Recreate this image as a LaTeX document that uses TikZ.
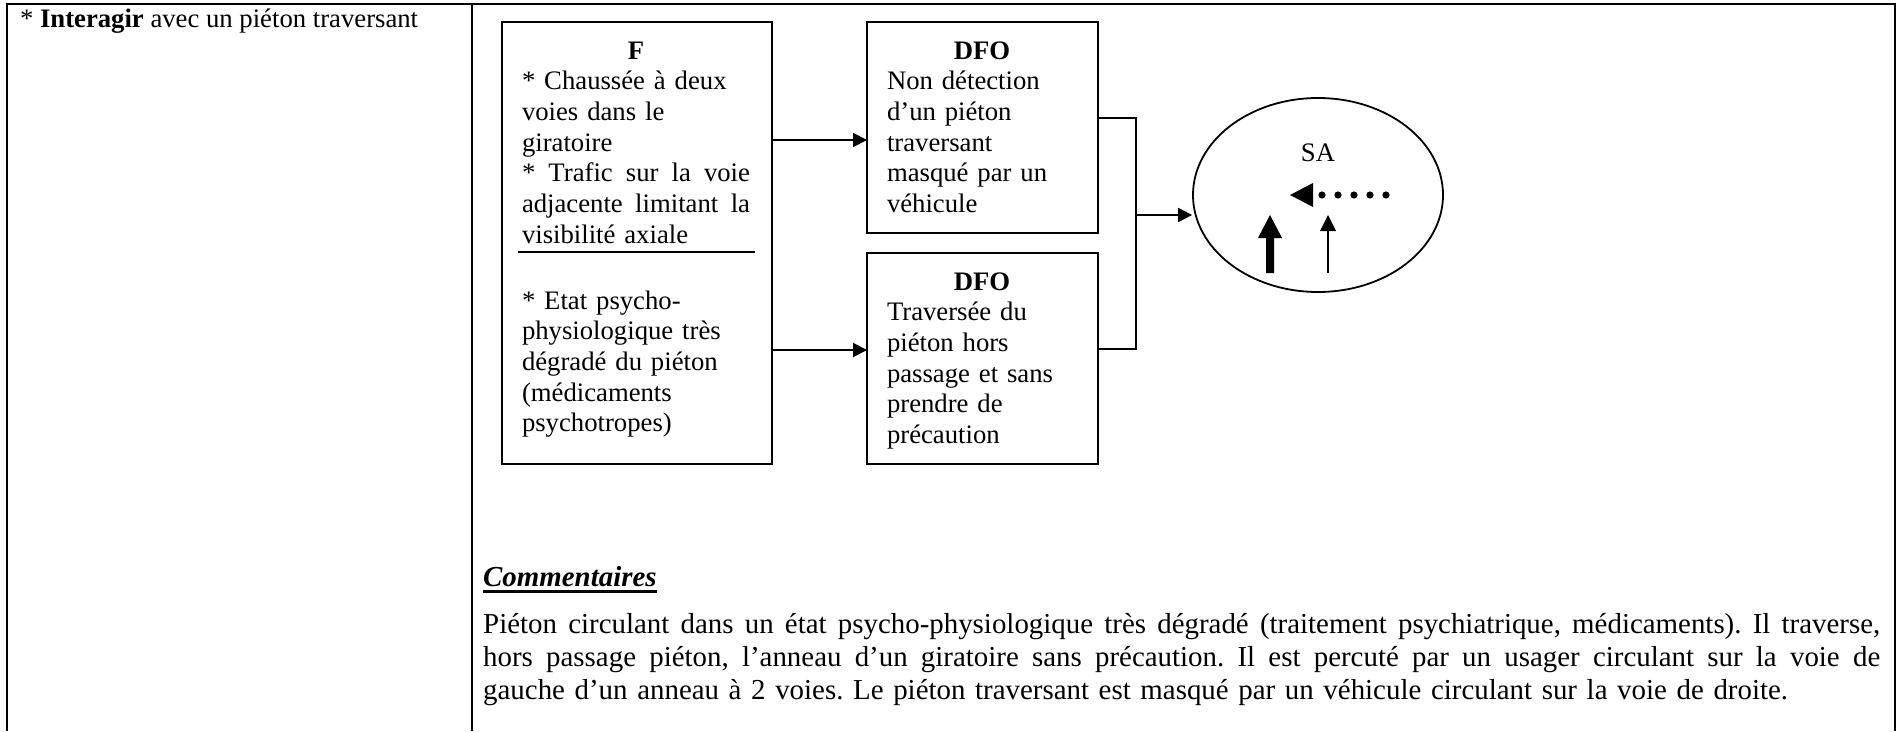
\documentclass[tikz,border=0pt]{standalone}
\usepackage{fontspec}
\setmainfont{Liberation Serif}
\usetikzlibrary{arrows.meta,shapes.geometric}
\newcommand\dgboxfont{\fontsize{26.7}{30.7}\selectfont}
\newcommand\dgheadfont{\fontsize{28.9}{33.3}\selectfont}
\newcommand\dgcomfont{\fontsize{28.9}{33.3}\selectfont}
% a line set flush to both margins
\newcommand\dgjust[2]{\makebox[#1][s]{\spaceskip=0.25em plus 1fil minus 0.05em\relax #2}}
\frenchspacing
\begin{document}
\begin{tikzpicture}[x=1pt,y=-1pt,
  tbl/.style={line width=2.6pt},
  box/.style={draw,line width=2.2pt,inner sep=0pt,outer sep=0pt,minimum width=#1},
  txt/.style={anchor=base west,inner sep=0pt,outer sep=0pt,font=\dgboxfont,align=left},
  link/.style={line width=2pt},
  arr/.style={line width=2pt,-{Triangle[length=14pt,width=14pt]}}]
\useasboundingbox (0,0) rectangle (1901,731);

% table frame and column rule
\draw[tbl] (7,731) -- (7,4) -- (1895,4) -- (1895,731);
\draw[tbl] (472,4) -- (472,731);

% left column
\node[txt] (title) at (20,27) {* \textbf{Interagir} avec un piéton traversant};

% factor box
\node[box=270pt,minimum height=442pt] (f) at (637,243) {};
\node[txt,text width=228pt] (ftop) at (522,59) {%
\makebox[228pt]{\textbf{F}}\\\relax
* Chaussée à deux\\
voies dans le\\
giratoire\\\relax
\dgjust{228pt}{* Trafic sur la voie}\\
\dgjust{228pt}{adjacente limitant la}\\
visibilité axiale};
\coordinate (sepl) at (518,252);
\coordinate (sepr) at (755,252);
\draw[line width=2.2pt] (sepl) -- (sepr);
\node[txt,text width=228pt] (fbot) at (522,309) {%
* Etat psycho-\\
physiologique très\\
dégradé du piéton\\
(médicaments\\
psychotropes)};

% DFO boxes
\node[box=231pt,minimum height=211pt] (dfo1) at (982.5,127.5) {};
\node[txt,text width=190pt] (dfo1t) at (887,59) {%
\makebox[190pt]{\textbf{DFO}}\\
Non détection\\
d’un piéton\\
traversant\\
masqué par un\\
véhicule};
\node[box=231pt,minimum height=211pt] (dfo2) at (982.5,358.5) {};
\node[txt,text width=190pt] (dfo2t) at (887,290) {%
\makebox[190pt]{\textbf{DFO}}\\
Traversée du\\
piéton hors\\
passage et sans\\
prendre de\\
précaution};

% accident situation
\node[draw,ellipse,line width=1.8pt,inner sep=0pt,minimum width=250pt,minimum height=194pt] (sa) at (1318,195) {};
\node[anchor=base,inner sep=0pt,font=\dgboxfont] (salabel) at (1318,161) {SA};
% pictogram: vehicles and pedestrian
\fill (1266,273) -- (1266,238) -- (1258,238) -- (1270,215) -- (1282,238) -- (1274,238) -- (1274,273) -- cycle;
\draw[line width=2pt] (1328,273) -- (1328,229);
\fill (1320,231) -- (1328,215) -- (1336,231) -- cycle;
\fill (1290,195) -- (1313,183) -- (1313,207) -- cycle;
\foreach \dx in {1322,1338,1354,1370,1386} \fill (\dx,195) circle (3.6);

% connectors
\coordinate (a1) at (0,140);
\coordinate (a2) at (0,350);
\draw[arr] (a1 -| f.east) -- (a1 -| dfo1.west);
\draw[arr] (a2 -| f.east) -- (a2 -| dfo2.west);
\coordinate (j1) at (1136,118);
\coordinate (j2) at (1136,349);
\coordinate (jm) at (1136,215);
\draw[link] (j1 -| dfo1.east) -- (j1) -- (j2) -- (j2 -| dfo2.east);
\draw[arr] (jm) -- (jm -| sa.west);

% comments
\node[anchor=base west,inner sep=0pt,font=\dgheadfont] (comhead) at (483,586) {\textbf{\textit{Commentaires}}};
\draw[line width=2.6pt] ([yshift=-5.5pt]comhead.base west) -- ([yshift=-5.5pt]comhead.base east);
\node[anchor=base west,inner sep=0pt,font=\dgcomfont,text width=1397pt,align=left] (combody) at (483,633) {%
\dgjust{1397pt}{Piéton circulant dans un état psycho-physiologique très dégradé (traitement psychiatrique, médicaments). Il traverse,}\\
\dgjust{1397pt}{hors passage piéton, l’anneau d’un giratoire sans précaution. Il est percuté par un usager circulant sur la voie de}\\
gauche d’un anneau à 2 voies. Le piéton traversant est masqué par un véhicule circulant sur la voie de droite.};
\end{tikzpicture}
\end{document}
